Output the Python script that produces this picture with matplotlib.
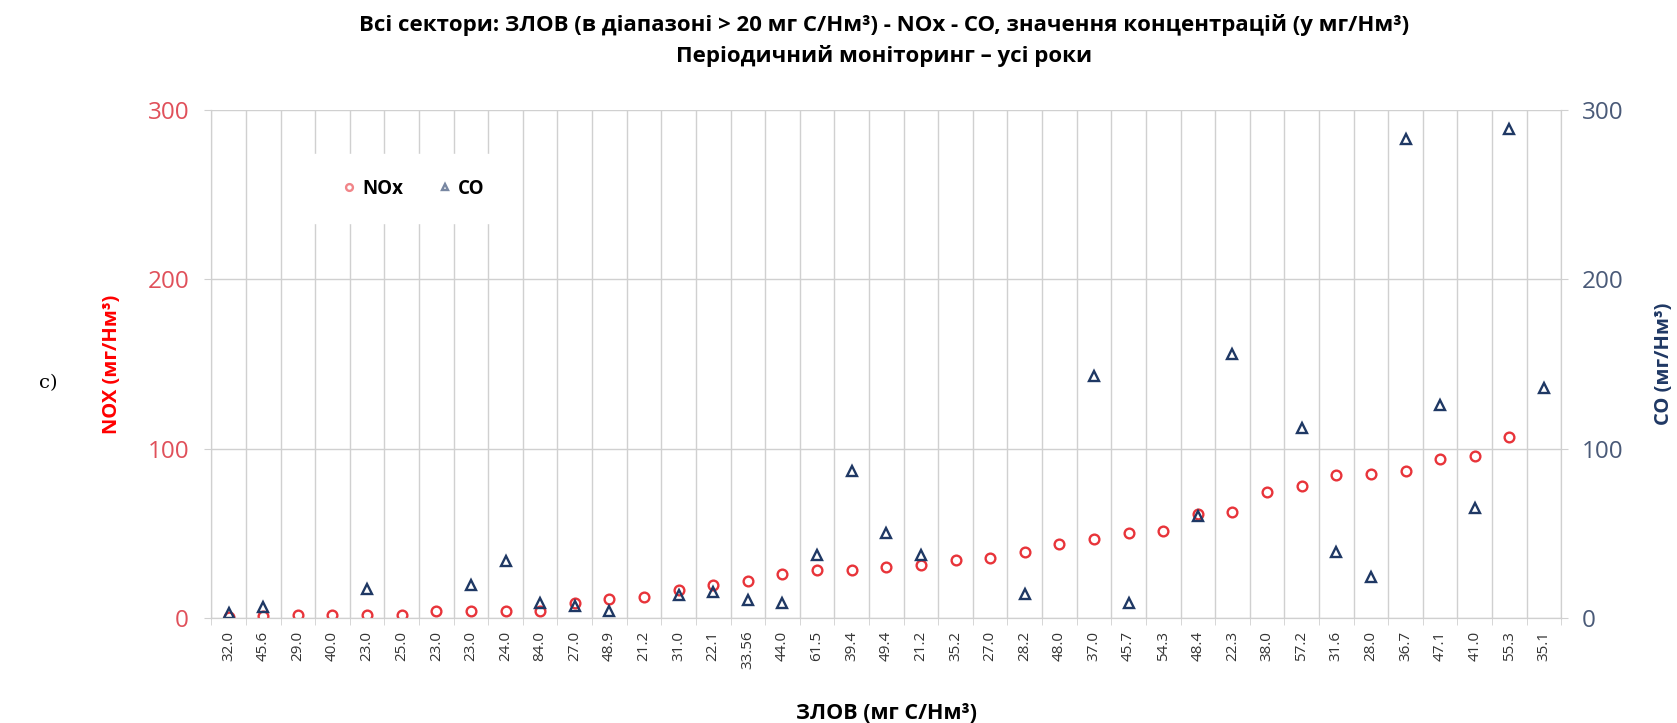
import matplotlib.pyplot as plt
import numpy as np

plt.rcParams['font.family'] = ['Open Sans', 'DejaVu Sans']

# ЗЛОВ values used as category labels
categories = ['32.0', '45.6', '29.0', '40.0', '23.0', '25.0', '23.0', '23.0', '24.0', '84.0',
              '27.0', '48.9', '21.2', '31.0', '22.1', '33.56', '44.0', '61.5', '39.4', '49.4',
              '21.2', '35.2', '27.0', '28.2', '48.0', '37.0', '45.7', '54.3', '48.4', '22.3',
              '38.0', '57.2', '31.6', '28.0', '36.7', '47.1', '41.0', '55.3', '35.1']

nan = np.nan
nox = [0.8, 1.2, 1.8, 1.8, 1.8, 1.8, 4.1, 4.3, 4.3, 4.0,
       9.0, 11.6, 12.2, 16.5, 19.5, 22.0, 26.0, 28.4, 28.4, 30.0,
       31.1, 34.3, 35.3, 39.2, 43.7, 47.0, 50.4, 51.6, 61.5, 62.8,
       74.6, 78.0, 84.5, 84.9, 86.8, 93.7, 95.7, 107.0, nan]

co = [3.0, 6.3, nan, nan, 17.0, nan, nan, 19.5, 33.8, 8.7,
      7.0, 4.3, nan, 13.6, 15.5, 11.0, 8.7, 37.2, 87.0, 50.4,
      37.2, nan, nan, 14.2, nan, 143.0, 9.0, nan, 60.5, 156.0,
      nan, 112.4, 39.2, 24.4, 283.0, 125.8, 64.8, 289.0, 136.0]

red = '#e8343a'
navy = '#1f3864'
grid_c = '#d0d0d0'

fig = plt.figure(figsize=(16.77, 7.23), dpi=100)
ax = fig.add_axes([0.126, 0.145, 0.805, 0.703])
ax2 = ax.twinx()

x = np.arange(len(categories))

p1, = ax.plot(x, nox, linestyle='none', marker='o', markersize=7,
              markerfacecolor='none', markeredgecolor=red, markeredgewidth=1.7, label='NOx')
p2, = ax2.plot(x, co, linestyle='none', marker='^', markersize=6.5,
               markerfacecolor='none', markeredgecolor=navy, markeredgewidth=1.7, label='CO')

for a in (ax, ax2):
    a.set_ylim(0, 300)
    a.set_yticks([0, 100, 200, 300])
    a.set_xlim(-0.5, len(categories) - 0.5)
    for s in a.spines.values():
        s.set_color(grid_c)
    a.spines['top'].set_visible(False)

ax.set_xticks(x)
ax.set_xticklabels(categories, rotation=90, fontsize=11, color='#333333')
ax.set_xticks(np.arange(-0.5, len(categories), 1), minor=True)
ax.tick_params(axis='x', which='major', length=0, pad=9)
ax.tick_params(axis='x', which='minor', length=5, color=grid_c)
ax.grid(True, axis='x', which='minor', color=grid_c, linewidth=1)
ax.grid(True, axis='y', which='major', color=grid_c, linewidth=1)
ax.set_axisbelow(True)

ax.tick_params(axis='y', labelsize=17.5, labelcolor='#e0505a', color=grid_c, length=5, pad=11)
ax2.tick_params(axis='y', labelsize=17.5, labelcolor='#4a5a78', color=grid_c, length=5, pad=10)

ax.set_ylabel('NOX (мг/Нм³)', color='red', fontsize=14.5, fontweight='bold', labelpad=18)
ax2.set_ylabel('CO (мг/Нм³)', color=navy, fontsize=14.5, fontweight='bold', labelpad=22)
ax.set_xlabel('ЗЛОВ (мг C/Нм³)', fontsize=15.5, fontweight='bold', labelpad=24)

fig.text(0.527, 0.966, 'Всі сектори: ЗЛОВ (в діапазоні > 20 мг C/Нм³) - NOx - CO, значення концентрацій (у мг/Нм³)',
         ha='center', va='center', fontsize=16, fontweight='bold')
fig.text(0.527, 0.922, 'Періодичний моніторинг – усі роки',
         ha='center', va='center', fontsize=16, fontweight='bold')

fig.text(0.029, 0.47, 'c)', family='DejaVu Serif', fontsize=14, ha='center', va='center')

leg = ax2.legend(handles=[p1, p2], loc='center', bbox_to_anchor=(0.148, 0.845), ncol=2,
                 frameon=True, fancybox=False, edgecolor='white', facecolor='white',
                 framealpha=1, markerscale=0.7, fontsize=13.5, handletextpad=0.1,
                 handlelength=1.2, columnspacing=1.6, borderpad=1.3)
for t in leg.get_texts():
    t.set_fontweight('bold')
for h in leg.legend_handles:
    h.set_alpha(0.6)

fig.savefig('out.png', dpi=100)
